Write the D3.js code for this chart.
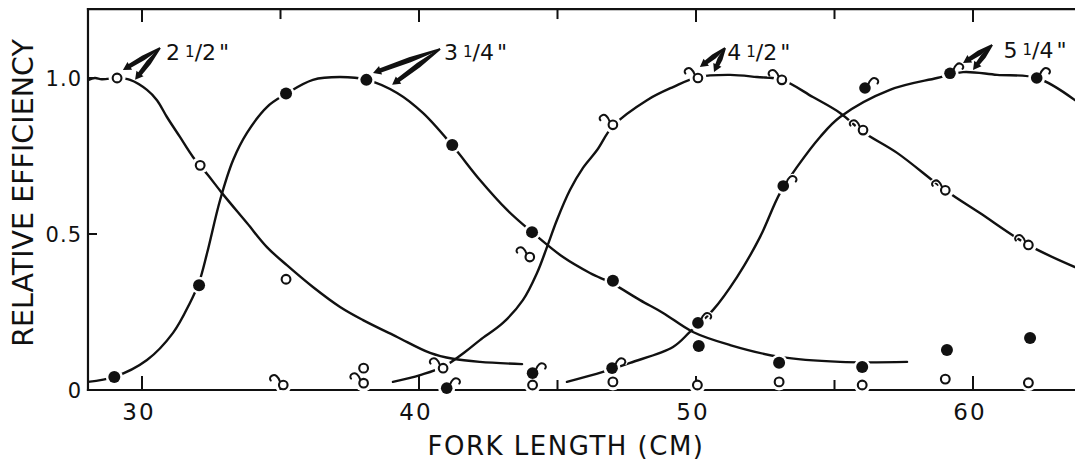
<!DOCTYPE html>
<html>
<head>
<meta charset="utf-8">
<script src="https://cdn.jsdelivr.net/npm/d3@7"></script>
<style>
  html, body { margin: 0; padding: 0; background: #fff; }
  svg { display: block; }
  text { font-family: "DejaVu Sans", sans-serif; fill: #111; }
</style>
</head>
<body>
<svg id="chart" width="1075" height="461"></svg>
<script>
// ---- axis ticks -------------------------------------------------------
const xMajorTicks = [30, 40, 50, 60];
const xMinorTicks = [35, 45, 55];
const yTickValues = [0, 0.5, 1.0];
const yTickLabels = ["0", "0.5", "1.0"];

// ---- mesh sizes (gill net), label parts ------------------------------
const meshWhole = ["2", "3", "4", "5"];
const meshNum   = ["1", "1", "1", "1"];
const meshDen   = ["2", "4", "2", "4"];

// ---- observed relative efficiency at fork length (cm) ----------------
const obs25  = [[29.1, 1.0], [32.1, 0.72], [35.2, 0.355], [38.0, 0.07], [44.1, 0.016],
                [47.0, 0.026], [50.05, 0.016], [53.0, 0.026], [56.0, 0.016], [59.0, 0.035], [62.0, 0.023]];
const obs325 = [[29.0, 0.042], [32.06, 0.336], [35.2, 0.95], [38.1, 0.994], [41.2, 0.785],
                [44.08, 0.506], [47.0, 0.35], [50.1, 0.141], [53.0, 0.087], [56.0, 0.074],
                [59.06, 0.128], [62.06, 0.167]];
const obs45  = [[35.1, 0.016], [38.0, 0.022], [40.87, 0.07], [44.0, 0.426], [47.0, 0.85],
                [50.07, 1.0], [53.1, 0.994], [56.03, 0.833], [59.0, 0.64], [62.0, 0.465]];
const obs525 = [[41.0, 0.006], [44.1, 0.054], [46.97, 0.07], [50.07, 0.215], [53.15, 0.654],
                [56.1, 0.968], [59.17, 1.015], [62.3, 1.0]];

// ---- hand-fitted selection curves ------------------------------------
const fit25 = [[28.05, 0.993], [28.3, 1.0], [28.55, 0.996], [29.13, 1.0], [29.57, 0.994], [30.18, 0.962],
               [30.54, 0.929], [30.9, 0.875], [31.37, 0.811], [31.84, 0.747], [32.38, 0.689],
               [32.89, 0.631], [33.79, 0.535], [34.51, 0.458], [35.23, 0.4], [36.17, 0.33],
               [37.15, 0.266], [37.98, 0.224], [39.21, 0.17], [40.4, 0.119], [41.23, 0.1],
               [42.2, 0.09], [43.72, 0.083]];
const fit325 = [[28.05, 0.026], [29.0, 0.042], [30.18, 0.096], [31.12, 0.183], [31.73, 0.279],
                [32.06, 0.345], [32.35, 0.439], [32.82, 0.609], [33.29, 0.737], [33.79, 0.824],
                [34.51, 0.907], [35.2, 0.949], [36.17, 0.994], [37.15, 1.003], [38.12, 0.994],
                [39.21, 0.952], [40.14, 0.888], [41.19, 0.785], [42.2, 0.673], [43.18, 0.577],
                [44.08, 0.506], [45.2, 0.426], [46.17, 0.375], [47.0, 0.34], [47.98, 0.288],
                [48.81, 0.247], [49.89, 0.186], [51.23, 0.144], [53.03, 0.106], [55.2, 0.09],
                [57.62, 0.09]];
const fit45 = [[39.06, 0.026], [40.04, 0.048], [40.87, 0.074], [41.66, 0.122], [42.2, 0.16],
               [43.03, 0.215], [43.75, 0.288], [44.26, 0.375], [44.62, 0.458], [44.98, 0.545],
               [45.45, 0.641], [45.92, 0.712], [46.43, 0.769], [47.0, 0.846], [48.23, 0.929],
               [49.17, 0.971], [50.07, 1.003], [51.23, 1.01], [52.2, 1.003], [53.1, 0.994],
               [54.22, 0.939], [55.2, 0.888], [56.03, 0.827], [57.26, 0.76], [58.99, 0.641],
               [60.25, 0.567], [61.99, 0.465], [63.68, 0.394]];
const fit525 = [[45.34, 0.026], [46.64, 0.058], [47.62, 0.087], [49.17, 0.138], [49.78, 0.186],
                [50.61, 0.256], [51.48, 0.362], [52.31, 0.49], [53.03, 0.631], [53.65, 0.715],
                [54.48, 0.811], [55.2, 0.875], [57.0, 0.962], [58.7, 1.0], [59.64, 1.019],
                [60.87, 1.01], [62.31, 1.0], [63.68, 0.929]];

// ---- label placement (data units): text anchor, arrow tail, two arrow heads
const labelAt   = [[30.87, 1.058], [40.9, 1.058], [51.13, 1.058], [61.1, 1.064]];
const arrowTail = [[30.65, 1.096], [40.76, 1.093], [51.05, 1.096], [60.69, 1.106]];
const arrowHeadA = [[29.31, 1.026], [38.34, 1.016], [50.14, 1.035], [59.64, 1.048]];
const arrowHeadB = [[29.75, 0.994], [39.03, 0.978], [50.65, 1.019], [60.0, 1.026]];

// ---- frame extent -----------------------------------------------------
const xLeft = 28.05, xRight = 64.5, yTopVal = 1.221;

// ======================================================================
const svg = d3.select("#chart");
const x = d3.scaleLinear().domain([30, 60]).range([142, 973]);
const y = d3.scaleLinear().domain([0, 1]).range([390, 78]);

const ink = "#111";
const pxLeft = x(xLeft), pxRight = x(xRight), pxTop = y(yTopVal), pxBottom = y(0);

svg.append("defs").append("clipPath").attr("id", "plotClip")
  .append("rect").attr("x", pxLeft).attr("y", 0).attr("width", 1075 - pxLeft).attr("height", 461);

// frame: left, top and bottom rules
const frame = svg.append("g").attr("stroke", ink).attr("stroke-width", 2.2).attr("stroke-linecap", "square");
frame.append("line").attr("x1", pxLeft).attr("x2", pxLeft).attr("y1", pxTop).attr("y2", pxBottom);
frame.append("line").attr("x1", pxLeft).attr("x2", pxRight).attr("y1", pxTop).attr("y2", pxTop);
frame.append("line").attr("x1", pxLeft).attr("x2", pxRight).attr("y1", pxBottom).attr("y2", pxBottom);

// curves
const line = d3.line().x(d => x(d[0])).y(d => y(d[1])).curve(d3.curveCatmullRom.alpha(0.5));
const curves = svg.append("g").attr("clip-path", "url(#plotClip)")
  .attr("fill", "none").attr("stroke", ink).attr("stroke-width", 2.4)
  .attr("stroke-linecap", "round");
[fit25, fit325, fit45, fit525].forEach(c => curves.append("path").attr("d", line(c)));

// white knock-outs: lines break around every plotted point
const allObs = [obs25, obs325, obs45, obs525];
const knock = svg.append("g").attr("fill", "#fff").attr("clip-path", "url(#plotClip)");
allObs.forEach(s => s.forEach(d => {
  knock.append("circle").attr("cx", x(d[0])).attr("cy", y(d[1])).attr("r", 8.5);
}));

// ticks (drawn inward)
const ticks = svg.append("g").attr("stroke", ink).attr("stroke-width", 2);
xMajorTicks.forEach(v => {
  ticks.append("line").attr("x1", x(v)).attr("x2", x(v)).attr("y1", pxTop).attr("y2", pxTop + 13);
  ticks.append("line").attr("x1", x(v)).attr("x2", x(v)).attr("y1", pxBottom).attr("y2", pxBottom - 14);
});
xMinorTicks.forEach(v => {
  ticks.append("line").attr("x1", x(v)).attr("x2", x(v)).attr("y1", pxTop).attr("y2", pxTop + 10);
  ticks.append("line").attr("x1", x(v)).attr("x2", x(v)).attr("y1", pxBottom).attr("y2", pxBottom - 10);
});
yTickValues.filter(v => v > 0).forEach(v => {
  ticks.append("line").attr("x1", pxLeft).attr("x2", pxLeft + 9).attr("y1", y(v)).attr("y2", y(v));
});

// markers
const marks = svg.append("g").attr("clip-path", "url(#plotClip)");
function hook(g, cx, cy, side) {
  const s = side;   // -1 = hook to the upper left, +1 = upper right
  const d = `M${cx + s * 3.2},${cy - 3.2} C${cx + s * 5},${cy - 8.5} ${cx + s * 8},${cy - 11} ${cx + s * 11},${cy - 9.5} S${cx + s * 13.5},${cy - 5.5} ${cx + s * 12.5},${cy - 4.5}`;
  g.append("path").attr("d", d).attr("fill", "none").attr("stroke", "#fff").attr("stroke-width", 4.5);
  g.append("path").attr("d", d).attr("fill", "none").attr("stroke", ink).attr("stroke-width", 2)
    .attr("stroke-linecap", "round");
}
obs25.forEach(d => marks.append("circle").attr("cx", x(d[0])).attr("cy", y(d[1])).attr("r", 4.4)
  .attr("fill", "#fff").attr("stroke", ink).attr("stroke-width", 2.1));
obs325.forEach(d => marks.append("circle").attr("cx", x(d[0])).attr("cy", y(d[1])).attr("r", 6)
  .attr("fill", ink));
obs45.forEach(d => {
  hook(marks, x(d[0]), y(d[1]), -1);
  marks.append("circle").attr("cx", x(d[0])).attr("cy", y(d[1])).attr("r", 4.3)
    .attr("fill", "#fff").attr("stroke", ink).attr("stroke-width", 2.1);
});
obs525.forEach(d => {
  hook(marks, x(d[0]), y(d[1]), 1);
  marks.append("circle").attr("cx", x(d[0])).attr("cy", y(d[1])).attr("r", 5.8).attr("fill", ink);
});

// tick labels
const lab = svg.append("g");
xMajorTicks.forEach(v => lab.append("text").attr("x", x(v) - 3).attr("y", 420)
  .attr("text-anchor", "middle").attr("font-size", 23).attr("letter-spacing", 2).text(v));
yTickValues.forEach((v, i) => lab.append("text").attr("x", 82).attr("y", y(v)).attr("dy", "0.36em")
  .attr("text-anchor", "end").attr("font-size", 21).attr("letter-spacing", 1).text(yTickLabels[i]));

// axis titles
lab.append("text").attr("x", 566).attr("y", 455).attr("text-anchor", "middle")
  .attr("font-size", 26).attr("letter-spacing", 1.5).text("FORK LENGTH (CM)");
lab.append("text").attr("transform", `translate(33,${(33 + 353) / 2}) rotate(-90)`)
  .attr("text-anchor", "middle").attr("font-size", 28.5).text("RELATIVE EFFICIENCY");

// mesh-size labels with pointer arrows
function arrow(t, h) {
  const tx = x(t[0]), ty = y(t[1]), hx = x(h[0]), hy = y(h[1]);
  const dx = hx - tx, dy = hy - ty, L = Math.hypot(dx, dy);
  const ux = dx / L, uy = dy / L, nx = -uy, ny = ux;
  const bx = hx - ux * 8, by = hy - uy * 8;
  const mx = tx + dx * 0.45, my = ty + dy * 0.45;
  const pts = [
    [tx + nx * 0.9, ty + ny * 0.9], [mx + nx * 2.6, my + ny * 2.6], [bx + nx * 2.2, by + ny * 2.2],
    [bx + nx * 4.5, by + ny * 4.5], [hx, hy], [bx - nx * 4.5, by - ny * 4.5],
    [bx - nx * 2.2, by - ny * 2.2], [mx - nx * 2.6, my - ny * 2.6], [tx - nx * 0.9, ty - ny * 0.9]
  ];
  svg.append("path").attr("d", "M" + pts.map(p => p.join(",")).join("L") + "Z").attr("fill", ink);
}
meshWhole.forEach((w, i) => {
  const t = lab.append("text").attr("x", x(labelAt[i][0])).attr("y", y(labelAt[i][1]))
    .attr("font-size", 22);
  t.append("tspan").text(w);
  t.append("tspan").attr("dx", 5).attr("dy", -3).attr("font-size", 15).text(meshNum[i]);
  t.append("tspan").attr("dy", 3).attr("font-size", 22).text("/" + meshDen[i]);
  t.append("tspan").attr("dx", 3).text("\"");
  arrow(arrowTail[i], arrowHeadA[i]);
  arrow(arrowTail[i], arrowHeadB[i]);
});
</script>
</body>
</html>
